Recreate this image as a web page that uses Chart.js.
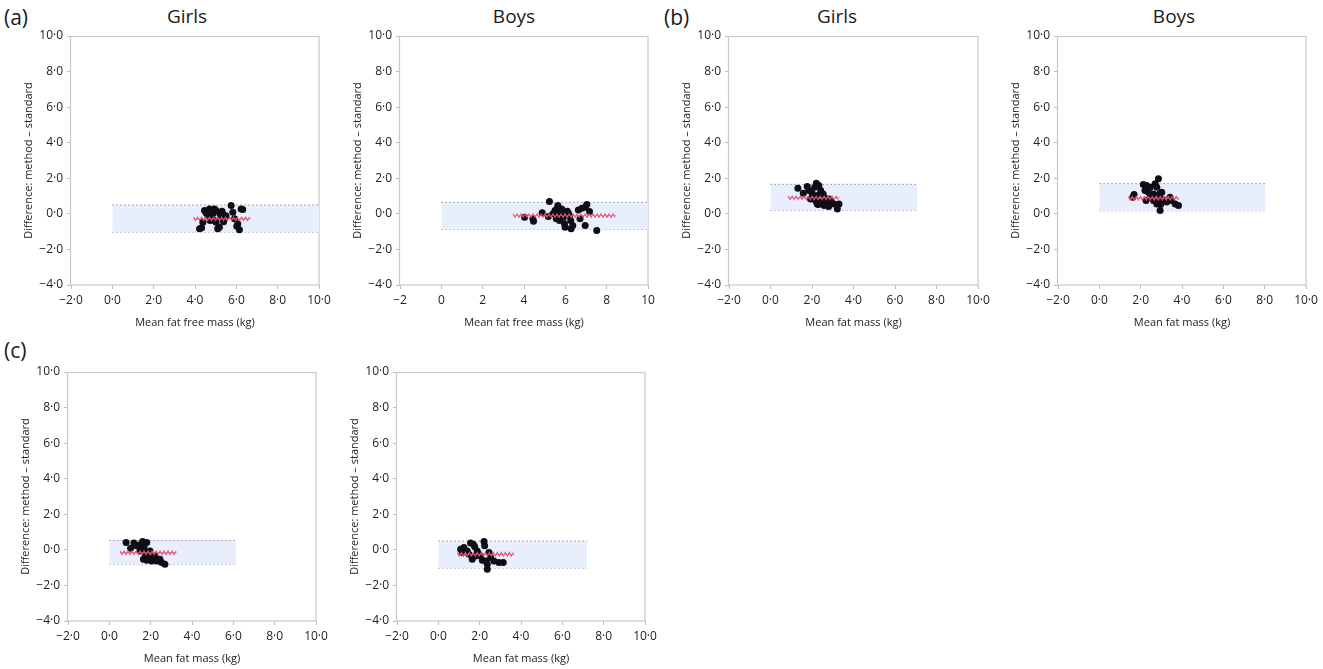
<!DOCTYPE html>
<html><head><meta charset="utf-8">
<script src="https://cdn.jsdelivr.net/npm/chart.js@4/dist/chart.umd.min.js"></script>
<style>
body{margin:0;background:#fff;width:1323px;height:669px;position:relative;overflow:hidden;font-family:"Open Sans",sans-serif;color:#222;}
.p{position:absolute;}
.lbl{position:absolute;font-size:21px;line-height:24px;color:#1a1a1a;}
.ttl{position:absolute;font-size:19px;line-height:22px;color:#1a1a1a;transform:translateX(-50%);white-space:nowrap;}
</style></head><body>
<div class="lbl" style="left:4px;top:5px">(a)</div>
<div class="lbl" style="left:664px;top:5px">(b)</div>
<div class="lbl" style="left:4px;top:338px">(c)</div>
<div class="ttl" style="left:187px;top:5px">Girls</div>
<div class="ttl" style="left:514px;top:5px">Boys</div>
<div class="ttl" style="left:837px;top:5px">Girls</div>
<div class="ttl" style="left:1174px;top:5px">Boys</div>
<script>
// ---- data ----
const xTicks = [-2, 0, 2, 4, 6, 8, 10];
const yTicks = [-4, -2, 0, 2, 4, 6, 8, 10];
const xTitleFFM = "Mean fat free mass (kg)";
const xTitleFM = "Mean fat mass (kg)";
const yTitle = "Difference: method \u2013 standard";

// (a) fat free mass, girls
const aGirlsX = [4.22,4.32,4.46,4.38,4.62,4.70,4.78,4.86,4.94,5.02,5.02,5.10,5.18,5.27,5.31,5.38,5.50,4.54,4.73,5.75,5.83,5.91,6.02,6.07,6.15,6.23,6.31,5.20,4.94];
const aGirlsY = [-0.84,-0.78,0.19,-0.47,-0.10,0.28,-0.28,0.00,0.28,0.19,-0.47,-0.84,-0.75,-0.19,0.15,-0.45,-0.10,0.05,-0.37,0.47,0.09,-0.28,-0.70,-0.56,-0.90,0.28,0.25,0.00,-0.37];
const aGirlsLimits = [0.50, -1.03];   // upper, lower limit of agreement
const aGirlsLimitsEnd = 10;
const aGirlsMean = -0.28;
const aGirlsMeanRange = [3.93, 6.70];

// (a) fat free mass, boys
const aBoysX = [4.03,4.43,4.46,4.88,5.18,5.23,5.40,5.50,5.59,5.64,5.67,5.72,5.78,5.83,5.91,5.96,5.99,6.10,6.20,6.26,6.28,6.36,6.63,6.80,6.96,7.04,7.17,6.71,6.96,7.52,6.15,5.56];
const aBoysY = [-0.19,-0.28,-0.41,0.06,-0.15,0.69,0.00,0.19,0.28,0.47,-0.09,-0.37,0.09,0.28,-0.19,-0.56,-0.75,0.15,-0.09,-0.37,-0.84,-0.66,0.22,0.32,0.37,0.52,0.13,-0.28,-0.66,-0.94,0.04,-0.28];
const aBoysLimits = [0.65, -0.88];
const aBoysLimitsEnd = 10;
const aBoysMean = -0.10;
const aBoysMeanRange = [3.47, 8.47];

// (b) fat mass, girls
const bGirlsX = [1.32,1.58,1.77,1.85,2.01,2.13,2.21,2.33,2.25,2.01,2.42,2.17,2.25,2.42,2.58,2.54,2.66,2.74,2.82,2.93,3.06,3.22,3.30,2.58,2.80,2.30,1.93];
const bGirlsY = [1.44,1.16,1.54,1.31,1.16,1.50,1.72,1.59,1.03,0.94,1.31,0.75,0.56,0.66,0.94,1.12,0.52,0.75,0.84,0.66,0.56,0.28,0.56,0.47,0.41,0.52,0.84];
const bGirlsLimits = [1.66, 0.19];
const bGirlsLimitsEnd = 7.08;
const bGirlsMean = 0.90;
const bGirlsMeanRange = [0.85, 3.35];

// (b) fat mass, boys
const bBoysX = [1.68,1.62,2.13,2.29,2.21,2.26,2.37,2.46,2.62,2.78,2.86,2.91,2.94,2.97,2.94,3.02,2.62,2.70,2.46,3.10,3.26,3.50,3.67,3.83,3.42,2.78];
const bBoysY = [1.09,0.94,1.65,1.59,1.31,0.75,1.22,0.94,1.12,1.50,1.97,1.12,0.84,0.52,0.19,1.22,0.75,1.69,1.50,0.79,0.66,0.75,0.56,0.47,0.94,0.56];
const bBoysLimits = [1.70, 0.17];
const bBoysLimitsEnd = 8.04;
const bBoysMean = 0.88;
const bBoysMeanRange = [1.40, 3.90];

// (c) fat mass, girls
const cGirlsX = [0.81,1.03,1.19,1.32,1.48,1.61,1.68,1.81,1.81,1.65,1.89,1.97,2.05,2.21,2.29,2.45,2.53,2.69,1.45,1.74,2.13,1.81];
const cGirlsY = [0.41,0.09,0.38,0.23,-0.06,0.47,0.13,0.41,-0.15,-0.53,-0.43,-0.06,-0.62,-0.34,-0.62,-0.53,-0.71,-0.81,0.28,-0.28,-0.43,-0.58];
const cGirlsLimits = [0.53, -0.83];
const cGirlsLimitsEnd = 6.14;
const cGirlsMean = -0.16;
const cGirlsMeanRange = [0.52, 3.27];

// (c) fat mass, boys
const cBoysX = [1.08,1.24,1.16,1.40,1.56,1.69,1.76,1.64,1.88,1.96,2.13,2.21,2.24,2.32,2.37,2.37,2.45,2.53,2.69,2.93,3.14,2.05,1.80,1.48];
const cBoysY = [0.04,0.13,-0.15,-0.06,0.38,0.32,0.17,-0.53,-0.06,-0.24,-0.58,0.47,0.23,-0.62,-1.09,-0.81,-0.15,-0.43,-0.62,-0.71,-0.71,-0.34,-0.34,-0.24];
const cBoysLimits = [0.50, -1.03];
const cBoysLimitsEnd = 7.20;
const cBoysMean = -0.25;
const cBoysMeanRange = [0.92, 3.70];

// ---- layout (plot-area pixel boxes) ----
const YW = 60, XH = 45, PT = 10, PR = 14;
const panels = [
  {L:71,  T:36,  R:319,  B:285, xs:aGirlsX, ys:aGirlsY, lim:aGirlsLimits, limEnd:aGirlsLimitsEnd, mean:aGirlsMean, mr:aGirlsMeanRange, xt:xTitleFFM, intX:false},
  {L:400, T:36,  R:648,  B:285, xs:aBoysX,  ys:aBoysY,  lim:aBoysLimits,  limEnd:aBoysLimitsEnd,  mean:aBoysMean,  mr:aBoysMeanRange,  xt:xTitleFFM, intX:true},
  {L:729, T:36,  R:978,  B:285, xs:bGirlsX, ys:bGirlsY, lim:bGirlsLimits, limEnd:bGirlsLimitsEnd, mean:bGirlsMean, mr:bGirlsMeanRange, xt:xTitleFM, intX:false},
  {L:1058,T:36,  R:1306, B:285, xs:bBoysX,  ys:bBoysY,  lim:bBoysLimits,  limEnd:bBoysLimitsEnd,  mean:bBoysMean,  mr:bBoysMeanRange,  xt:xTitleFM, intX:false},
  {L:68,  T:372, R:316,  B:621, xs:cGirlsX, ys:cGirlsY, lim:cGirlsLimits, limEnd:cGirlsLimitsEnd, mean:cGirlsMean, mr:cGirlsMeanRange, xt:xTitleFM, intX:false},
  {L:397, T:372, R:645,  B:621, xs:cBoysX,  ys:cBoysY,  lim:cBoysLimits,  limEnd:cBoysLimitsEnd,  mean:cBoysMean,  mr:cBoysMeanRange,  xt:xTitleFM, intX:false},
];

const fmtDec = v => (v < 0 ? '\u2212' : '') + Math.abs(v) + '\u00b70';
const fmtInt = v => (v < 0 ? '\u2212' : '') + Math.abs(v);

const framePlugin = {
  id: 'frame',
  beforeDatasetsDraw(chart) {
    const a = chart.chartArea, c = chart.ctx;
    c.save();
    c.strokeStyle = '#c9c9c9';
    c.lineWidth = 1.2;
    c.strokeRect(Math.round(a.left) - 0.5, Math.round(a.top) + 0.5, Math.round(a.right - a.left) + 0.5, Math.round(a.bottom - a.top) - 0.5);
    c.restore();
  }
};
const zigzagPlugin = {
  id: 'zigzag',
  afterDatasetsDraw(chart) {
    const c = chart.ctx;
    chart.data.datasets.forEach((ds, i) => {
      if (!ds.zigzag) return;
      const pts = chart.getDatasetMeta(i).data;
      const x0 = pts[0].x, x1 = pts[1].x, y = pts[0].y;
      c.save();
      c.strokeStyle = 'rgba(228,84,118,0.95)';
      c.lineWidth = 1.1;
      c.beginPath();
      let k = 0;
      for (let x = x0; x <= x1; x += 2, k++) {
        const yy = y + (k % 2 ? 1.8 : -1.8);
        if (k === 0) c.moveTo(x, yy); else c.lineTo(x, yy);
      }
      c.stroke();
      c.restore();
    });
  }
};

panels.forEach(p => {
  const div = document.createElement('div');
  div.className = 'p';
  const w = (p.R - p.L) + YW + PR, h = (p.B - p.T) + PT + XH;
  div.style.left = (p.L - YW) + 'px';
  div.style.top = (p.T - PT) + 'px';
  div.style.width = w + 'px';
  div.style.height = h + 'px';
  const cv = document.createElement('canvas');
  div.appendChild(cv);
  document.body.appendChild(div);

  const pts = p.xs.map((x, i) => ({x, y: p.ys[i]}));
  const tickFont = {family: '"Open Sans", sans-serif', size: 12};
  const titleFont = {family: '"Open Sans", sans-serif', size: 11};
  new Chart(cv, {
    data: {
      datasets: [
        {type: 'line', zigzag: true, data: [{x: p.mr[0], y: p.mean}, {x: p.mr[1], y: p.mean}],
         borderColor: 'rgba(228,84,118,0.55)', borderWidth: 1, pointRadius: 0, order: 0},
        {type: 'scatter', data: pts, backgroundColor: '#0e0e14', borderWidth: 0, pointRadius: 3.5, order: 1},
        {type: 'line', data: [{x: 0, y: p.lim[0]}, {x: p.limEnd, y: p.lim[0]}],
         borderColor: '#8f909c', borderWidth: 1, borderDash: [1.5, 2.5], pointRadius: 0,
         fill: '+1', backgroundColor: '#e8eefc', order: 2},
        {type: 'line', data: [{x: 0, y: p.lim[1]}, {x: p.limEnd, y: p.lim[1]}],
         borderColor: '#8f909c', borderWidth: 1, borderDash: [1.5, 2.5], pointRadius: 0, order: 3},
      ]
    },
    options: {
      responsive: true, maintainAspectRatio: false, animation: false,
      layout: {padding: {left: 0, top: PT, right: PR, bottom: 0}},
      plugins: {legend: {display: false}, tooltip: {enabled: false}, title: {display: false}},
      scales: {
        x: {
          type: 'linear', min: -2, max: 10,
          afterBuildTicks: s => { s.ticks = xTicks.map(v => ({value: v})); },
          afterFit: s => { s.height = XH; s.paddingLeft = 0; s.paddingRight = 0; },
          ticks: {callback: p.intX ? fmtInt : fmtDec, color: '#222', font: tickFont, padding: 4, maxRotation: 0, autoSkip: false},
          grid: {drawOnChartArea: false, drawTicks: true, tickLength: 4, color: '#bdbdbd'},
          border: {display: false},
          title: {display: true, text: p.xt, color: '#222', font: titleFont, padding: {top: 0, bottom: 1}}
        },
        y: {
          type: 'linear', min: -4, max: 10,
          afterBuildTicks: s => { s.ticks = yTicks.map(v => ({value: v})); },
          afterFit: s => { s.width = YW; s.paddingTop = 0; s.paddingBottom = 0; },
          ticks: {callback: fmtDec, color: '#222', font: tickFont, padding: 4, autoSkip: false},
          grid: {drawOnChartArea: false, drawTicks: true, tickLength: 4, color: '#bdbdbd'},
          border: {display: false},
          title: {display: true, text: yTitle, color: '#222', font: titleFont, padding: {top: 11, bottom: 0}}
        }
      }
    },
    plugins: [framePlugin, zigzagPlugin]
  });
});
</script>
</body></html>
